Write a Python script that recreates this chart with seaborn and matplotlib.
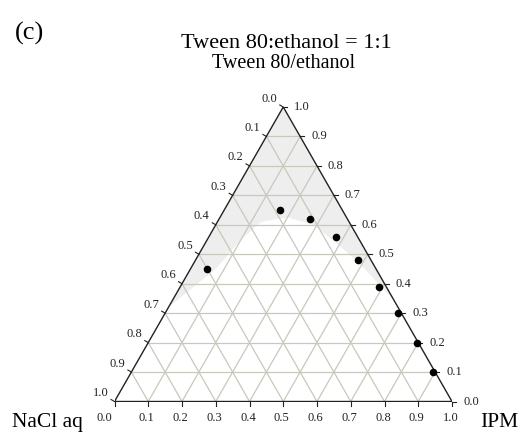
import numpy as np
import pandas as pd
import matplotlib
matplotlib.use("Agg")
import matplotlib.pyplot as plt
import seaborn as sns

# ---- data (ternary fractions) ----
tween = [0.65, 0.62, 0.56, 0.48, 0.39, 0.45, 0.30, 0.20, 0.10]
ipm = [0.165, 0.27, 0.375, 0.48, 0.59, 0.05, 0.69, 0.795, 0.895]
nacl = [round(1 - t - i, 3) for t, i in zip(tween, ipm)]

# single-phase region boundary (Tween fraction, IPM fraction)
region_tween = [0.32, 0.45, 0.55, 0.61, 0.625, 0.60, 0.54, 0.47, 0.39, 0.34]
region_ipm = [0.0, 0.075, 0.10, 0.13, 0.20, 0.29, 0.385, 0.49, 0.595, 0.66]

tick_values = [round(0.1 * k, 1) for k in range(11)]
tick_labels = [f"{v:.1f}" for v in tick_values]

title_main = "Tween 80:ethanol = 1:1"
apex_label = "Tween 80/ethanol"
left_label = "NaCl aq"
right_label = "IPM"
panel_label = "(c)"

plt.rcParams['font.family'] = ['Liberation Serif', 'DejaVu Serif']


def tern(t, i):
    """(Tween, IPM) -> cartesian (x, y) with y = Tween height fraction."""
    t = np.asarray(t, float)
    i = np.asarray(i, float)
    return i + t / 2.0, t


W, H = 526, 440
fig = plt.figure(figsize=(W / 100, H / 100), dpi=100)
x0, y0, wpx, hpx = 114.5, 401.5, 337.5, 294.5
ax = fig.add_axes([x0 / W, (H - y0) / H, wpx / W, hpx / H])
ax.set_xlim(0, 1)
ax.set_ylim(0, 1)
ax.axis('off')

px_x = 1.0 / wpx
px_y = 1.0 / hpx

# shaded region
rx, ry = tern(region_tween, region_ipm)
poly_x = list(rx) + [0.5]
poly_y = list(ry) + [1.0]
ax.fill(poly_x, poly_y, color='#eeeeee', lw=0, zorder=1)

# grid
gc = '#c8c8bc'
for v in tick_values[1:-1]:
    # constant Tween
    ax.plot([v / 2, 1 - v / 2], [v, v], color=gc, lw=0.9, zorder=2)
    # constant IPM
    ax.plot([v, (1 + v) / 2], [0, 1 - v], color=gc, lw=0.9, zorder=2)
    # constant NaCl
    ax.plot([1 - v, (1 - v) / 2], [0, 1 - v], color=gc, lw=0.9, zorder=2)

# triangle edges
ax.plot([0, 1, 0.5, 0], [0, 0, 1, 0], color='#222222', lw=1.0, zorder=3,
        solid_joinstyle='miter')

tl = 4.0
fs_tick = 9
for v, lab in zip(tick_values, tick_labels):
    # bottom axis (IPM)
    ax.plot([v, v], [0, -tl * px_y], color='#222222', lw=0.8, clip_on=False, zorder=3)
    dx = -10 if v == 0.0 else -1.5
    ax.annotate(lab, (v, 0), xytext=(dx * 0.72, -16.5 * 0.72), textcoords='offset points',
                ha='center', va='center', fontsize=fs_tick, color='#222222',
                annotation_clip=False)
    # right axis (Tween)
    xr, yr = 1 - v / 2, v
    ax.plot([xr, xr + tl * px_x], [yr, yr], color='#222222', lw=0.8, clip_on=False, zorder=3)
    ax.annotate(lab, (xr, yr), xytext=(11 * 0.72, 0), textcoords='offset points',
                ha='left', va='center', fontsize=fs_tick, color='#222222',
                annotation_clip=False)
    # left axis (NaCl)
    t = 1 - v
    xl, yl = t / 2, t
    ax.plot([xl, xl - 0.866 * tl * px_x], [yl, yl + 0.5 * tl * px_y], color='#222222',
            lw=0.8, clip_on=False, zorder=3)
    ax.annotate(lab, (xl, yl), xytext=(-6 * 0.72, 8.5 * 0.72), textcoords='offset points',
                ha='right', va='center', fontsize=fs_tick, color='#222222',
                annotation_clip=False)

# data points
px, py = tern(tween, ipm)
df = pd.DataFrame({'x': px, 'y': py, 'NaCl': nacl})
sns.scatterplot(data=df, x='x', y='y', ax=ax, color='black', s=30,
                edgecolor='black', linewidth=0, zorder=5, legend=False, clip_on=False)
ax.set_xlim(0, 1)
ax.set_ylim(0, 1)
ax.axis('off')

# titles & labels
fig.text(286.5 / W, 1 - 48.3 / H, title_main, ha='center', va='baseline', fontsize=16)
fig.text(283.3 / W, 1 - 68.3 / H, apex_label, ha='center', va='baseline', fontsize=14.5)
fig.text(47.5 / W, 1 - 426.7 / H, left_label, ha='center', va='baseline', fontsize=15.5)
fig.text(499.5 / W, 1 - 426.7 / H, right_label, ha='center', va='baseline', fontsize=15.5)
fig.text(15 / W, 1 - 40 / H, panel_label, ha='left', va='baseline', fontsize=19)

fig.savefig('out.png', dpi=100, facecolor='white')
